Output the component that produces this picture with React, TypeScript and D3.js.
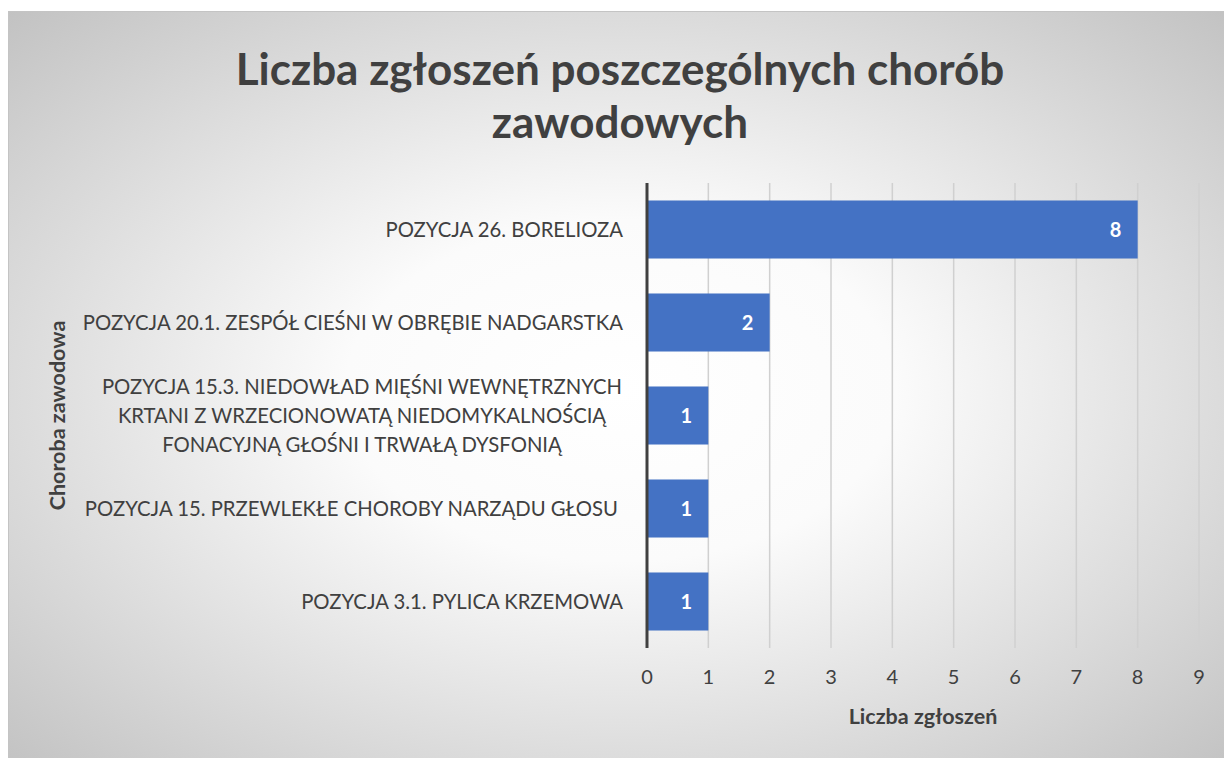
import React from "react";
import * as d3 from "d3";

const categories: string[][] = [
  ["POZYCJA 26. BORELIOZA"],
  ["POZYCJA 20.1. ZESPÓŁ CIEŚNI W OBRĘBIE NADGARSTKA"],
  ["POZYCJA 15.3. NIEDOWŁAD MIĘŚNI WEWNĘTRZNYCH", "KRTANI Z WRZECIONOWATĄ NIEDOMYKALNOŚCIĄ", "FONACYJNĄ GŁOŚNI I TRWAŁĄ DYSFONIĄ"],
  ["POZYCJA 15. PRZEWLEKŁE CHOROBY NARZĄDU GŁOSU "],
  ["POZYCJA 3.1. PYLICA KRZEMOWA"],
];
const values: number[] = [8, 2, 1, 1, 1];
const xTicks: number[] = [0, 1, 2, 3, 4, 5, 6, 7, 8, 9];
const titleLines: string[] = ["Liczba zgłoszeń poszczególnych chorób", "zawodowych"];
const xTitle = "Liczba zgłoszeń";
const yTitle = "Choroba zawodowa";

const W = 1224, H = 758;
const plot = { left: 647, right: 1199, top: 183, bottom: 648 };
const FONT = "Lato, 'Open Sans', sans-serif";
const TXT = "#404040";

export default function App() {
  const x = d3.scaleLinear().domain([0, 9]).range([plot.left, plot.right]);
  const y = d3
    .scaleBand<number>()
    .domain(d3.range(categories.length))
    .range([plot.top, plot.bottom])
    .paddingInner(0.376)
    .paddingOuter(0.188);
  const midX = (plot.left + plot.right) / 2;
  const midY = (plot.top + plot.bottom) / 2;
  return (
    <svg width={W} height={H} style={{ position: "absolute", left: 0, top: 0 }} fontFamily={FONT}>
      <defs>
        <radialGradient id="bg" cx="50%" cy="50%" r="75%" fx="50%" fy="50%">
          <stop offset="0%" stopColor="#ffffff" />
          <stop offset="30%" stopColor="#fbfbfb" />
          <stop offset="100%" stopColor="#bdbdbd" />
        </radialGradient>
      </defs>
      <rect x={0} y={0} width={W} height={H} fill="#ffffff" />
      <rect x={8.5} y={11.5} width={W} height={H} fill="url(#bg)" stroke="#c4c4c4" strokeWidth={1} />
      {titleLines.map((t, i) => (
        <text key={i} x={620} y={85 + i * 53} textAnchor="middle" fontSize={44} fontWeight="bold" fill={TXT}>
          {t}
        </text>
      ))}
      {xTicks.slice(1).map((t) => (
        <line key={t} x1={x(t)} x2={x(t)} y1={plot.top} y2={plot.bottom} stroke="#d0d0d0" strokeWidth={1.5} />
      ))}
      {values.map((v, i) => (
        <g key={i}>
          <rect x={x(0)} y={y(i)!} width={x(v) - x(0)} height={y.bandwidth()} fill="#4472c4" />
          <text
            x={x(v) - 22}
            y={y(i)! + y.bandwidth() / 2}
            dy="0.35em"
            textAnchor="middle"
            fontSize={20}
            fontWeight="bold"
            fill="#ffffff"
          >
            {v}
          </text>
        </g>
      ))}
      <line x1={x(0)} x2={x(0)} y1={plot.top} y2={plot.bottom} stroke="#404040" strokeWidth={3} />
      {xTicks.map((t) => (
        <text key={t} x={x(t)} y={684} textAnchor="middle" fontSize={20} fill={TXT}>
          {t}
        </text>
      ))}
      {categories.map((lines, i) => {
        const cy = y(i)! + y.bandwidth() / 2;
        const lh = 29;
        const multi = lines.length > 1;
        return (
          <text key={i} fontSize={20.3} fill={TXT} textAnchor={multi ? "middle" : "end"} xmlSpace="preserve">
            {lines.map((l, j) => (
              <tspan key={j} x={multi ? 362 : 623} y={cy + (j - (lines.length - 1) / 2) * lh} dy="0.35em">
                {l}
              </tspan>
            ))}
          </text>
        );
      })}
      <text x={midX} y={724} textAnchor="middle" fontSize={21.5} fontWeight="bold" fill={TXT}>
        {xTitle}
      </text>
      <text
        transform={`translate(65,${midY}) rotate(-90)`}
        textAnchor="middle"
        fontSize={21.5}
        fontWeight="bold"
        fill={TXT}
      >
        {yTitle}
      </text>
    </svg>
  );
}
